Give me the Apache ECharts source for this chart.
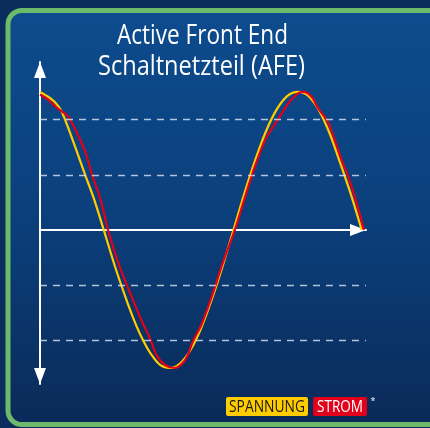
<!DOCTYPE html>
<html><head><meta charset="utf-8">
<script src="https://cdn.jsdelivr.net/npm/echarts/dist/echarts.min.js"></script>
<style>html,body{margin:0;padding:0;background:#0a2d5e;}#c{width:430px;height:428px;}</style>
</head><body><div id="c"></div>
<script>
// ---- data ----
const titleLines = ['Active Front End', 'Schaltnetzteil (AFE)'];
const legendNames = ['SPANNUNG', 'STROM'];
// phase angle in degrees, normalised amplitude
const spannungX = [0, 10, 20, 30, 45, 63, 75, 89, 105, 123, 135, 144, 155, 168, 181, 195, 210, 225, 240, 255, 270, 285, 300, 315, 330, 345, 360, 375, 390, 405, 420, 435, 449];
const spannungY = [1.0, 0.97, 0.93, 0.86, 0.66, 0.40, 0.23, 0.0, -0.27, -0.54, -0.70, -0.80, -0.90, -0.98, -1.0, -0.97, -0.87, -0.71, -0.50, -0.26, 0.0, 0.26, 0.50, 0.71, 0.87, 0.97, 1.0, 0.97, 0.86, 0.69, 0.47, 0.24, 0.0];
const stromX = [0, 10, 20, 30, 38, 50, 65, 72, 84, 95, 110, 130, 142, 153, 163, 175, 188, 198, 205, 214, 225, 240, 255, 272, 285, 300, 315, 332, 347, 360, 368, 380, 387, 402, 420, 432, 445, 452];
const stromY = [0.98, 0.95, 0.90, 0.86, 0.83, 0.72, 0.54, 0.41, 0.23, 0.0, -0.25, -0.51, -0.66, -0.78, -0.91, -0.98, -1.0, -0.97, -0.92, -0.80, -0.69, -0.48, -0.24, 0.0, 0.22, 0.46, 0.66, 0.80, 0.92, 0.99, 1.0, 0.96, 0.89, 0.78, 0.52, 0.36, 0.14, 0.0];
const dashedLevels = [0.8, 0.4, -0.4, -0.8];

// ---- helpers ----
function zip(xs, ys) { return xs.map((x, i) => [x, ys[i]]); }
const ctx = document.createElement('canvas').getContext('2d');
function fitScale(text, font, target) { ctx.font = font; return target / ctx.measureText(text).width; }

const FONT = '"Open Sans", "Noto Sans", sans-serif';
const titleSize = 28;
const legendSize = 16;

function titleText(t, cx, cy, target) {
  const f = titleSize + 'px ' + FONT;
  return { type: 'text', x: cx, y: cy, scaleX: fitScale(t, f, target), z: 10,
    style: { text: t, fill: '#ffffff', font: f, textAlign: 'center', textVerticalAlign: 'middle' } };
}
function legendBox(t, x, y, w, h, bg, fg, target) {
  const f = legendSize + 'px ' + FONT;
  return [
    { type: 'rect', shape: { x: x, y: y, width: w, height: h, r: 2 }, style: { fill: bg }, z: 10 },
    { type: 'text', x: x + w / 2, y: y + h / 2 + 0.5, scaleX: fitScale(t, f, target), z: 11,
      style: { text: t, fill: fg, font: f, textAlign: 'center', textVerticalAlign: 'middle' } }
  ];
}

const chart = echarts.init(document.getElementById('c'), null, { renderer: 'canvas' });
chart.setOption({
  backgroundColor: '#0a2d5e',
  animation: false,
  grid: { left: 40, top: 62, width: 326, height: 322, containLabel: false },
  xAxis: {
    type: 'value', min: 0, max: 455,
    axisLine: { show: true, onZero: true, symbol: ['none', 'triangle'], symbolSize: [12, 16], symbolOffset: [0, -8],
      lineStyle: { color: '#ffffff', width: 2 } },
    axisTick: { show: false }, axisLabel: { show: false }, splitLine: { show: false }
  },
  yAxis: {
    type: 'value', min: -1.116, max: 1.217,
    axisLine: { show: true, onZero: false, symbol: ['triangle', 'triangle'], symbolSize: [12, 16], symbolOffset: [8, -8],
      lineStyle: { color: '#ffffff', width: 2 } },
    axisTick: { show: false }, axisLabel: { show: false }, splitLine: { show: false }
  },
  graphic: [
    { type: 'rect', z: -10, shape: { x: 8, y: 10.5, width: 440, height: 414, r: 14 },
      style: { stroke: '#6dba6b', lineWidth: 5,
        fill: new echarts.graphic.LinearGradient(0, 0, 0, 1, [
          { offset: 0, color: '#0d4c8e' }, { offset: 0.5, color: '#0b3f7b' }, { offset: 1, color: '#0a2a58' }]) } },
    titleText(titleLines[0], 202.5, 36, 171),
    titleText(titleLines[1], 201.5, 67, 207),
    ...legendBox(legendNames[0], 226, 397, 82, 19, '#ffcc00', '#1a1a1a', 76),
    ...legendBox(legendNames[1], 313, 397, 54, 19, '#e2001a', '#ffffff', 46),
    { type: 'text', x: 373, y: 401, z: 11, style: { text: '*', fill: '#ffffff', font: '9px ' + FONT, textAlign: 'center', textVerticalAlign: 'middle' } }
  ],
  series: [
    { type: 'line', name: legendNames[0], data: zip(spannungX, spannungY), smooth: 0.3, showSymbol: false, clip: false,
      lineStyle: { color: '#ffcc00', width: 2.2 }, z: 3,
      markLine: { silent: true, symbol: 'none', label: { show: false },
        lineStyle: { color: 'rgba(220,230,245,0.8)', width: 1.3, type: [7, 6] },
        data: dashedLevels.map(v => ({ yAxis: v })) } },
    { type: 'line', name: legendNames[1], data: zip(stromX, stromY), smooth: 0.3, showSymbol: false, clip: false,
      lineStyle: { color: '#e2001a', width: 2.2 }, z: 4 }
  ]
});
</script>
</body></html>
